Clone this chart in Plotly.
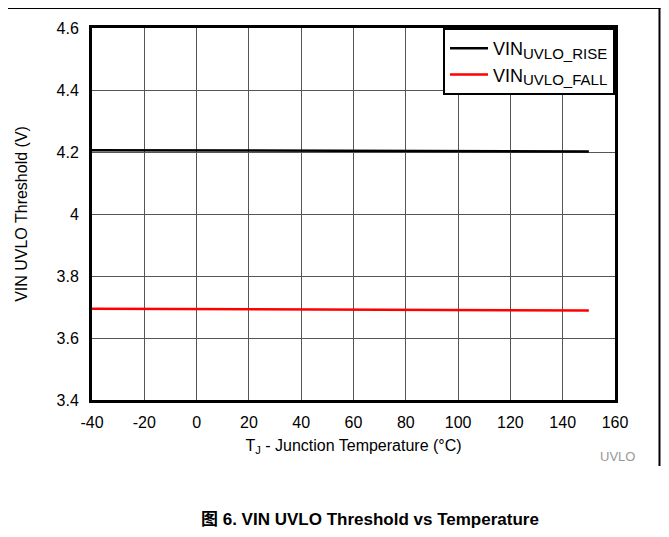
import plotly.graph_objects as go

# Data
temp_c = [-40, 0, 25, 85, 125, 150]
vin_uvlo_rise = [4.206, 4.205, 4.204, 4.203, 4.202, 4.202]
vin_uvlo_fall = [3.694, 3.693, 3.692, 3.690, 3.689, 3.689]
x_ticks = [-40, -20, 0, 20, 40, 60, 80, 100, 120, 140, 160]
x_tick_text = ["-40", "-20", "0", "20", "40", "60", "80", "100", "120", "140", "160"]
y_ticks = [3.4, 3.6, 3.8, 4.0, 4.2, 4.4, 4.6]
y_tick_text = ["3.4", "3.6", "3.8", "4", "4.2", "4.4", "4.6"]

OFF = 8  # page body margin offset
W, H = 669 - 2 * OFF, 537 - 2 * OFF
L, R, T, B = 86 - OFF, 615 - OFF, 28 - OFF, 400 - OFF

def px(x):
    return (x - OFF - L) / (R - L)

def py(y):
    return (B - (y - OFF)) / (B - T)

FONT = "Liberation Sans, Arial, sans-serif"
SUB = "<sub><span style='font-size:15px'>{}</span></sub>"

fig = go.Figure()
fig.add_trace(go.Scatter(x=temp_c, y=vin_uvlo_rise, mode="lines",
                         line=dict(color="black", width=2.5),
                         name="VIN" + SUB.format("UVLO_RISE")))
fig.add_trace(go.Scatter(x=temp_c, y=vin_uvlo_fall, mode="lines",
                         line=dict(color="#ff0000", width=2.5),
                         name="VIN" + SUB.format("UVLO_FALL")))

fig.update_layout(
    width=W, height=H,
    margin=dict(l=L, r=W - R, t=T, b=H - B),
    paper_bgcolor="white", plot_bgcolor="white",
    font=dict(family=FONT, size=15, color="black"),
    showlegend=True,
    legend=dict(x=1, y=1, xanchor="right", yanchor="top",
                bgcolor="white", bordercolor="black", borderwidth=2,
                font=dict(family=FONT, size=18),
                tracegroupgap=0, itemwidth=38),
    xaxis=dict(range=[-40, 160], tickvals=x_ticks, ticktext=x_tick_text,
               showgrid=True, gridcolor="#555555", gridwidth=1, showline=True,
               linecolor="black", linewidth=3, mirror=True, zeroline=False,
               ticks="", tickfont=dict(size=16), ticklabelstandoff=6,
               title=dict(text="T<sub>J</sub> - Junction Temperature (°C)",
                          font=dict(size=16), standoff=10)),
    yaxis=dict(range=[3.4, 4.6], tickvals=y_ticks, ticktext=y_tick_text,
               showgrid=True, gridcolor="#555555", gridwidth=1, showline=True,
               linecolor="black", linewidth=3, mirror=True, zeroline=False,
               ticks="", tickfont=dict(size=16), ticklabelstandoff=7,
               title=dict(text="VIN UVLO Threshold (V)", font=dict(size=16),
                          standoff=25)),
)

# Border lines of the figure region
fig.add_shape(type="line", xref="paper", yref="paper",
              x0=px(0), x1=px(661), y0=py(8), y1=py(8),
              line=dict(color="black", width=2))
fig.add_shape(type="line", xref="paper", yref="paper",
              x0=px(660), x1=px(660), y0=py(8), y1=py(466),
              line=dict(color="black", width=2))

# Cut-off text at top
fig.add_annotation(text="(V)", xref="paper", yref="paper", x=px(363), y=py(-4),
                   showarrow=False, font=dict(size=16, family=FONT),
                   xanchor="center", yanchor="middle")

fig.add_annotation(text="UVLO", xref="paper", yref="paper", x=px(618), y=py(456),
                   showarrow=False, font=dict(size=13, color="#999999", family=FONT),
                   xanchor="center", yanchor="middle")

fig.add_annotation(text="<b>图 6. VIN UVLO Threshold vs Temperature</b>",
                   xref="paper", yref="paper", x=px(367), y=py(519),
                   showarrow=False,
                   font=dict(size=17, family="Liberation Sans, Noto Sans CJK SC, sans-serif"),
                   xanchor="center", yanchor="middle")

fig.write_html("out.html")
